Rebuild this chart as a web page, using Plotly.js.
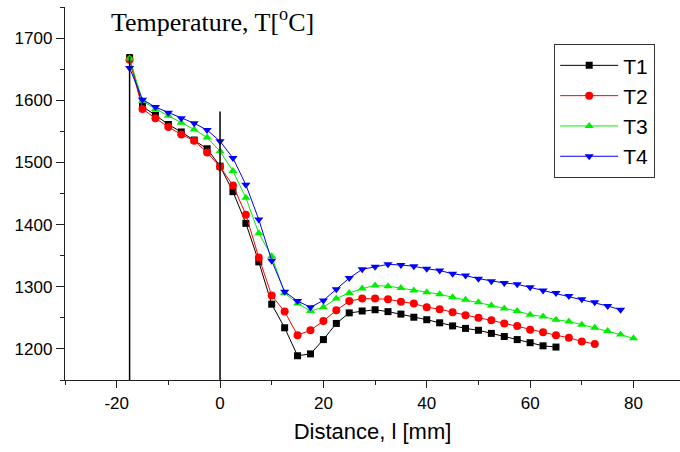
<!DOCTYPE html>
<html>
<head>
<meta charset="utf-8">
<script src="https://cdn.plot.ly/plotly-3.0.1.min.js"></script>
<style>html,body{margin:0;padding:0;background:#fff;}#chart{width:680px;height:452px;}</style>
</head>
<body>
<div id="chart"></div>
<script>
const distance = [-17.5,-15,-12.5,-10,-7.5,-5,-2.5,0,2.5,5,7.5,10,12.5,15,17.5,20,22.5,25,27.5,30,32.5,35,37.5,40,42.5,45,47.5,50,52.5,55,57.5,60,62.5,65,67.5,70,72.5,75,77.5,80];
const T1 = [1668,1590,1576,1561,1549,1536,1522,1494,1453,1402,1340,1272,1234,1189,1192,1215,1241,1258,1261,1263,1260,1256,1251,1247,1242,1237,1233,1230,1225,1220,1215,1210,1205,1203];
const T2 = [1665,1586,1571,1557,1545,1535,1516,1493,1463,1416,1347,1286,1260,1222,1230,1245,1262,1277,1281,1281,1280,1276,1273,1267,1264,1259,1254,1250,1246,1241,1237,1231,1227,1222,1218,1212,1208];
const T3 = [1667,1599,1586,1575,1564,1553,1540,1518,1486,1443,1386,1349,1290,1273,1261,1267,1281,1290,1297,1302,1301,1298,1294,1291,1288,1283,1279,1275,1270,1265,1261,1255,1252,1247,1244,1239,1234,1229,1223,1217];
const T4 = [1652,1601,1589,1580,1571,1563,1552,1534,1507,1464,1408,1342,1292,1277,1267,1278,1296,1314,1328,1332,1336,1335,1333,1329,1326,1321,1318,1313,1309,1306,1304,1299,1294,1290,1285,1280,1275,1269,1263];
const T1error = [5];
const seriesNames = ['T1','T2','T3','T4'];
const guideX = [-17.5, 0];
const guideTop = [1670, 1582];
const xTicks = [-20,0,20,40,60,80];
const xTickLabels = ['-20','0','20','40','60','80'];
const yTicks = [1200,1300,1400,1500,1600,1700];
const yTickLabels = ['1200','1300','1400','1500','1600','1700'];

const colors = ['#000000','#ff0000','#00ee00','#0000ff'];
const symbols = ['square','circle','triangle-up','triangle-down'];
const sizes = [7,8,8,8];
const values = [T1,T2,T3,T4];

const traces = values.map((v,i)=>{
  const t = {
    x: distance.slice(0, v.length), y: v, name: seriesNames[i],
    type:'scatter', mode:'lines+markers',
    line:{color:colors[i], width:1},
    marker:{color:colors[i], symbol:symbols[i], size:sizes[i]}
  };
  if(i===0){
    t.error_y = {type:'data', array: T1error.concat(new Array(v.length-1).fill(null)), color:'#000', thickness:1.5, width:3, visible:true};
  }
  return t;
});

const shapes = guideX.map((gx,i)=>({
  type:'line', xref:'x', yref:'y', x0:gx, x1:gx, y0:1150, y1:guideTop[i],
  line:{color:'#000', width:1.5}
}));

const tickFont = {family:'Liberation Sans, Arial, sans-serif', size:17, color:'#000'};

const layout = {
  width:680, height:452,
  margin:{l:65, r:0, t:7, b:72},
  paper_bgcolor:'#fff', plot_bgcolor:'#fff',
  showlegend:true,
  title:{text:'Temperature, T[<sup>o</sup>C]', font:{family:'Liberation Serif, Times New Roman, serif', size:26, color:'#000'},
    xref:'paper', x:(111-65)/615, xanchor:'left', yref:'container', y:1-22/452, yanchor:'middle'},
  xaxis:{range:[-30,89], tickvals:xTicks, ticktext:xTickLabels, ticks:'outside', ticklen:7, tickwidth:1, tickcolor:'#222',
    showline:true, linecolor:'#222', linewidth:1.2, showgrid:false, zeroline:false,
    minor:{dtick:10, tick0:0, ticks:'outside', ticklen:4, tickcolor:'#222', showgrid:false},
    tickfont:tickFont,
    title:{text:'Distance, l [mm]', font:{family:'Liberation Sans, Arial, sans-serif', size:22, color:'#000'}, standoff:12}},
  yaxis:{range:[1150,1750], tickvals:yTicks, ticktext:yTickLabels, ticks:'outside', ticklen:8, tickwidth:1, tickcolor:'#222',
    showline:true, linecolor:'#222', linewidth:1.2, showgrid:false, zeroline:false,
    minor:{dtick:50, tick0:0, ticks:'outside', ticklen:4, tickcolor:'#222', showgrid:false},
    tickfont:tickFont},
  legend:{x:(554-65)/615, y:(380-44)/373, xanchor:'left', yanchor:'top',
    bordercolor:'#333', borderwidth:1.2, bgcolor:'#fff',
    font:{family:'Liberation Sans, Arial, sans-serif', size:21, color:'#000'},
    itemwidth:58, tracegroupgap:4},
  shapes: shapes
};

Plotly.newPlot('chart', traces, layout, {displayModeBar:false, staticPlot:true});
</script>
</body>
</html>
